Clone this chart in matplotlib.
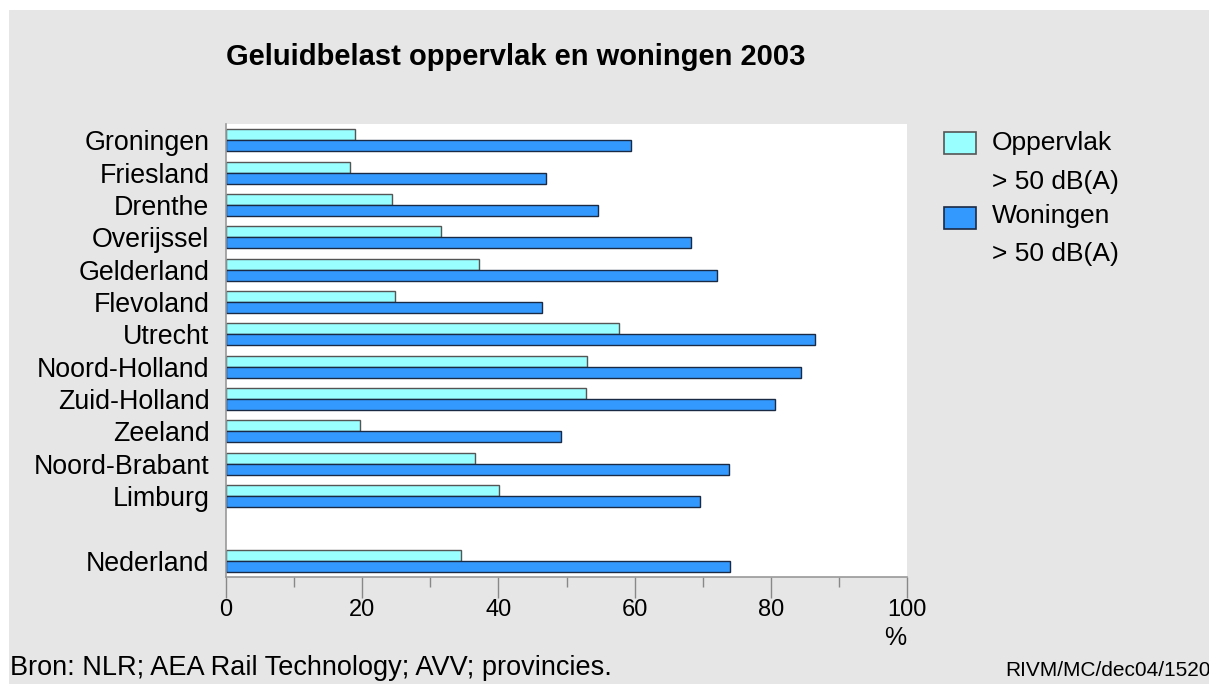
import matplotlib
matplotlib.use("Agg")
import matplotlib.pyplot as plt
from matplotlib.patches import Rectangle
from matplotlib.ticker import MultipleLocator

provinces = ["Groningen", "Friesland", "Drenthe", "Overijssel", "Gelderland",
             "Flevoland", "Utrecht", "Noord-Holland", "Zuid-Holland", "Zeeland",
             "Noord-Brabant", "Limburg", "", "Nederland"]
oppervlak = [18.9, 18.2, 24.4, 31.6, 37.2, 24.8, 57.7, 53.0, 52.9, 19.7, 36.6, 40.1, None, 34.5]
woningen = [59.5, 47.0, 54.6, 68.3, 72.1, 46.4, 86.5, 84.4, 80.6, 49.2, 73.9, 69.6, None, 74.0]
xticks = [0, 20, 40, 60, 80, 100]

plt.rcParams['font.family'] = ['Liberation Sans', 'DejaVu Sans']

W, H = 1209, 684
fig = plt.figure(figsize=(W / 100, H / 100), dpi=100)
fig.patch.set_facecolor('white')
fig.patches.append(Rectangle((9 / W, 0), 1 - 9 / W, 1 - 10 / H, transform=fig.transFigure,
                             facecolor='#e6e6e6', edgecolor='none', zorder=-10))

ax = fig.add_axes([226 / W, 1 - 577 / H, (907 - 226) / W, (577 - 124) / H])
ax.set_facecolor('white')

c_opp = '#99ffff'
c_won = '#3399ff'
bh = 0.34
for i, (o, w) in enumerate(zip(oppervlak, woningen)):
    if o is None:
        continue
    ax.barh(i - bh / 2, o, height=bh, color=c_opp, edgecolor='#555555', linewidth=1.0)
    ax.barh(i + bh / 2, w, height=bh, color=c_won, edgecolor='#1a2a44', linewidth=1.0)

ax.set_ylim(len(provinces) - 0.5, -0.5)
ax.set_xlim(0, 100)
ax.set_yticks(range(len(provinces)))
ax.set_yticklabels(provinces, fontsize=19.3)
ax.tick_params(axis='y', length=0, pad=12)
ax.set_xticks(xticks)
ax.set_xticklabels([str(t) for t in xticks], fontsize=17)
ax.xaxis.set_minor_locator(MultipleLocator(10))
ax.tick_params(axis='x', which='major', length=15, width=1, color='#888888', pad=1, direction='out')
ax.tick_params(axis='x', which='minor', length=7, width=1, color='#888888', direction='out')
for s in ['top', 'right']:
    ax.spines[s].set_visible(False)
for s in ['left', 'bottom']:
    ax.spines[s].set_color('#999999')
    ax.spines[s].set_linewidth(1.2)

fig.text(226 / W, 1 - 57 / H, "Geluidbelast oppervlak en woningen 2003", fontsize=21,
         fontweight='bold', ha='left', va='center')
fig.text(895 / W, 1 - 638 / H, "%", fontsize=18, ha='center', va='center')
fig.text(10 / W, 1 - 668 / H, "Bron: NLR; AEA Rail Technology; AVV; provincies.", fontsize=19.5,
         ha='left', va='center')
fig.text(1005 / W, 1 - 670 / H, "RIVM/MC/dec04/1520", fontsize=15, ha='left', va='center')

# legend
for (y0, col, ec) in [(132, c_opp, '#555555'), (207, c_won, '#1a2a44')]:
    fig.patches.append(Rectangle((944 / W, 1 - (y0 + 22) / H), 32 / W, 22 / H,
                                 transform=fig.transFigure, facecolor=col, edgecolor=ec, linewidth=1.2))
for txt, yc in [("Oppervlak", 143), ("> 50 dB(A)", 182), ("Woningen", 216), ("> 50 dB(A)", 254)]:
    fig.text(992 / W, 1 - yc / H, txt, fontsize=19, ha='left', va='center')

fig.savefig('out.png', dpi=100)
